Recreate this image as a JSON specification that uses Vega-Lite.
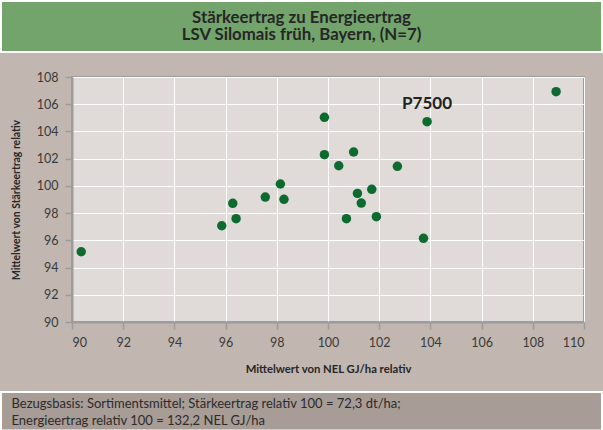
{
  "$schema": "https://vega.github.io/schema/vega-lite/v6.json",
  "background": "#c1b6b0",
  "padding": 0,
  "spacing": 10,
  "config": {"font": "Lato", "view": {"stroke": null}},
  "vconcat": [
    {
      "width": 601,
      "height": 51,
      "view": {"fill": "#72a46b", "stroke": "#ffffff", "strokeWidth": 2},
      "data": {"values": [{"t": "Stärkeertrag zu Energieertrag\nLSV Silomais früh, Bayern, (N=7)"}]},
      "mark": {"type": "text", "lineBreak": "\n", "font": "Lato", "fontWeight": "bold", "fontSize": 16.8, "lineHeight": 17, "color": "#262626", "baseline": "middle", "dy": -9},
      "encoding": {"text": {"field": "t"}}
    },
    {
      "spacing": 0,
      "hconcat": [
        {
          "width": 1,
          "height": 1,
          "view": {"fill": "#c1b6b0"},
          "data": {"values": []},
          "mark": "point"
        },
        {
          "width": 512,
          "height": 245,
          "view": {"fill": "#e0dbd8", "stroke": "#9c9c9c", "strokeWidth": 2},
          "title": {"text": " ", "fontSize": 1, "offset": 6},
          "data": {"values": [
            {"nel": 90.36, "staerke": 95.16},
            {"nel": 95.85, "staerke": 97.07},
            {"nel": 96.28, "staerke": 98.72},
            {"nel": 96.41, "staerke": 97.59},
            {"nel": 97.55, "staerke": 99.18},
            {"nel": 98.14, "staerke": 100.14},
            {"nel": 98.28, "staerke": 99.01},
            {"nel": 99.86, "staerke": 105.04},
            {"nel": 99.86, "staerke": 102.29},
            {"nel": 100.42, "staerke": 101.48},
            {"nel": 101.0, "staerke": 102.49},
            {"nel": 100.72, "staerke": 97.59},
            {"nel": 101.15, "staerke": 99.45},
            {"nel": 101.3, "staerke": 98.74},
            {"nel": 101.71, "staerke": 99.75},
            {"nel": 101.89, "staerke": 97.74},
            {"nel": 102.71, "staerke": 101.44},
            {"nel": 103.73, "staerke": 96.15},
            {"nel": 103.87, "staerke": 104.72, "sorte": "P7500"},
            {"nel": 108.91, "staerke": 106.92}
          ]},
          "encoding": {
            "x": {
              "field": "nel", "type": "quantitative",
              "scale": {"domain": [90, 110], "nice": false, "zero": false},
              "axis": {
                "values": [90, 92, 94, 96, 98, 100, 102, 104, 106, 108, 110],
                "grid": true, "gridColor": "#ffffff", "gridWidth": 1, "gridOpacity": 1,
                "domainColor": "#9c9c9c", "domainWidth": 2,
                "tickColor": "#9c9c9c", "tickSize": 7, "tickWidth": 1.5,
                "labelFont": "Lato", "labelFontSize": 12.5, "labelColor": "#3a3a3a", "labelPadding": 7,
                "title": "Mittelwert von NEL GJ/ha relativ",
                "titleFont": "Lato", "titleFontWeight": "bold", "titleFontSize": 11.3, "titleColor": "#262626",
                "titleY": 47, "titleBaseline": "middle",
                "minExtent": 57.5
              }
            },
            "y": {
              "field": "staerke", "type": "quantitative",
              "scale": {"domain": [90, 108], "nice": false, "zero": false},
              "axis": {
                "values": [90, 92, 94, 96, 98, 100, 102, 104, 106, 108],
                "grid": true, "gridColor": "#ffffff", "gridWidth": 1, "gridOpacity": 1,
                "domainColor": "#9c9c9c", "domainWidth": 2,
                "tickColor": "#9c9c9c", "tickSize": 7, "tickWidth": 1.5,
                "labelFont": "Lato", "labelFontSize": 12.5, "labelColor": "#3a3a3a", "labelPadding": 7,
                "title": "Mittelwert von Stärkeertrag relativ",
                "titleFont": "Lato", "titleFontWeight": "bold", "titleFontSize": 10.4, "titleColor": "#262626",
                "titleX": -55.5, "titleBaseline": "middle",
                "minExtent": 69
              }
            }
          },
          "layer": [
            {
              "mark": {"type": "circle", "size": 90, "color": "#0d6b2f", "opacity": 1}
            },
            {
              "transform": [{"filter": "datum.sorte != null"}],
              "mark": {"type": "text", "font": "Lato", "fontWeight": "bold", "fontSize": 17, "color": "#222222", "baseline": "middle", "dy": -18},
              "encoding": {"text": {"field": "sorte"}}
            }
          ]
        }
      ]
    },
    {
      "width": 601,
      "height": 38.5,
      "view": {"fill": "#a89c96", "stroke": "#ffffff", "strokeWidth": 2},
      "data": {"values": [{"t": "Bezugsbasis: Sortimentsmittel; Stärkeertrag relativ 100 = 72,3 dt/ha;\nEnergieertrag relativ 100 = 132,2 NEL GJ/ha"}]},
      "mark": {"type": "text", "lineBreak": "\n", "align": "left", "baseline": "middle", "font": "Lato", "fontSize": 13, "lineHeight": 17, "color": "#2b2b2b", "dx": 10.5, "dy": -7.75},
      "encoding": {
        "text": {"field": "t"},
        "x": {"datum": 0, "type": "quantitative", "scale": {"domain": [0, 1]}, "axis": null}
      }
    }
  ]
}
